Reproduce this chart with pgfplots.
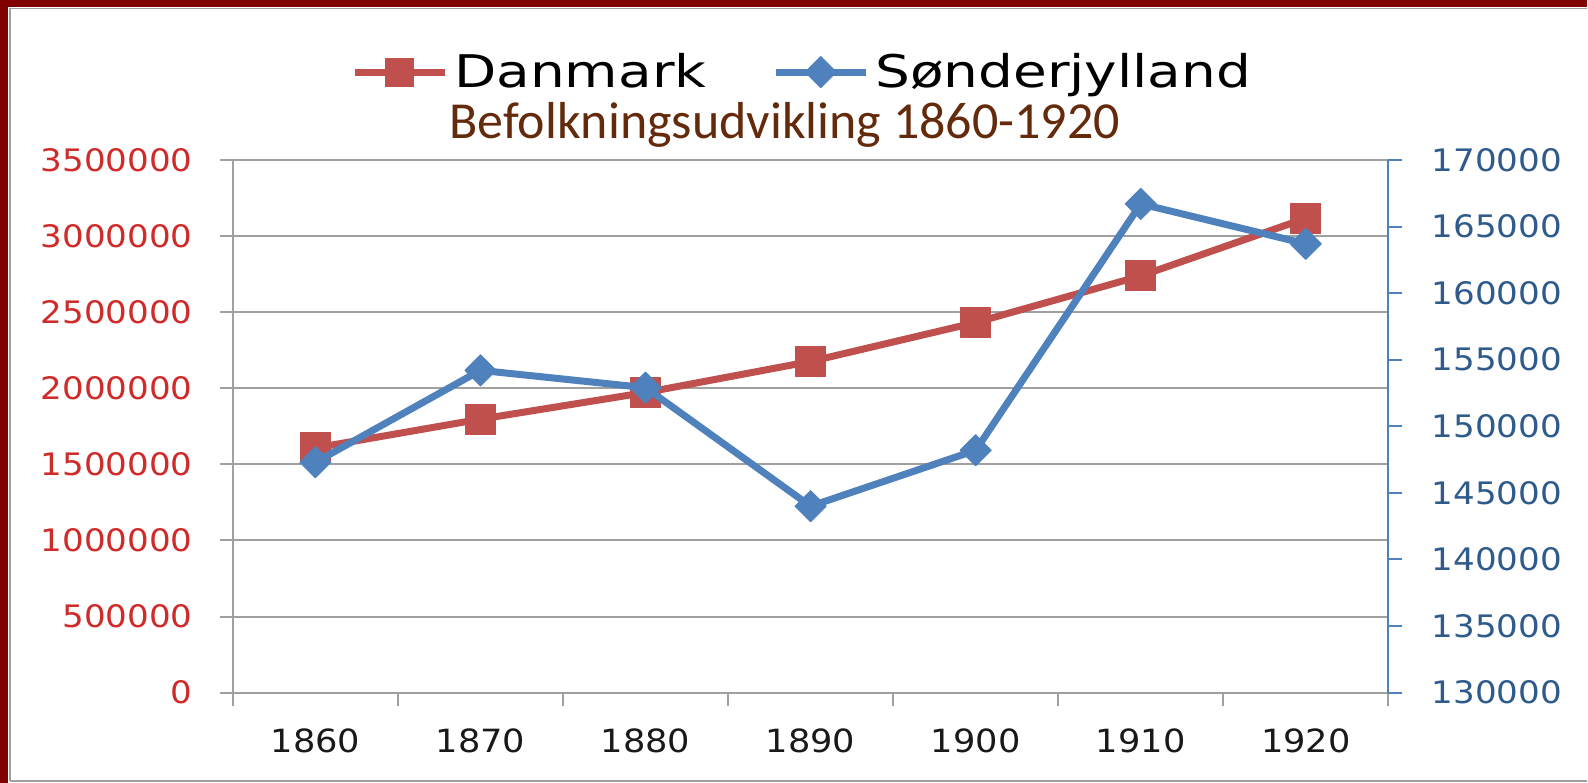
\documentclass[border=0pt]{standalone}
\usepackage{fontspec}
\usepackage{pgfplots}
\pgfplotsset{compat=1.18}
\setmainfont{DejaVu Sans}
\newfontfamily\tickfam[FakeStretch=1.1]{DejaVu Sans}
\newfontfamily\legfam[FakeStretch=1.22]{DejaVu Sans}
\newfontfamily\titlefam{Carlito}
\definecolor{dkred}{HTML}{C0504D}
\definecolor{dkblue}{HTML}{4F81BD}
\definecolor{framered}{HTML}{800000}
\definecolor{gridgray}{HTML}{A0A0A0}
\definecolor{ticklred}{HTML}{D02B2B}
\definecolor{ticklblue}{HTML}{2F5A8C}
\definecolor{titlebrown}{HTML}{642A0C}
\pgfplotsset{
  base/.style={
    at={(116.5pt,45pt)}, anchor=south west, scale only axis,
    width=578pt, height=266.5pt,
    xmin=0.5, xmax=7.5,
    scaled y ticks=false,
    /pgf/number format/fixed,
    /pgf/number format/set thousands separator={},
    /pgf/number format/assume math mode=true,
    tick align=outside,
  }
}
\begin{document}
\begin{tikzpicture}
\fill[white] (0,0) rectangle (794pt,391.5pt);
\fill[framered] (0,388pt) rectangle (794pt,391.5pt);
\fill[framered] (0,0) rectangle (4pt,391.5pt);
\draw[gridgray, line width=0.75pt] (5pt,0.75pt) -- (794pt,0.75pt);
\draw[gridgray, line width=0.75pt] (5pt,0.75pt) -- (5pt,387.25pt);
\draw[gridgray, line width=0.75pt] (5pt,387.25pt) -- (794pt,387.25pt);

\begin{axis}[base,
  ymin=0, ymax=3500000,
  xtick={0.5,1.5,...,7.5},
  x tick label as interval,
  xticklabels={1860,1870,1880,1890,1900,1910,1920},
  ytick={0,500000,...,3500000},
  axis x line*=bottom, axis y line*=left,
  axis line style={-, draw=gridgray, line width=1pt},
  major tick length=6.5pt,
  tick style={gridgray, line width=1pt},
  ymajorgrids, grid style={gridgray, line width=1pt},
  yticklabel style={font=\tickfam\fontsize{15.5}{16}\selectfont, color=ticklred, inner sep=0pt, xshift=-13.5pt},
  xticklabel style={font=\tickfam\fontsize{16}{17}\selectfont, color=black!90, inner sep=0pt, yshift=-11.5pt},
]
\addplot[dkred, line width=3.5pt, line join=round, mark=square*, mark size=7.5pt,
  mark options={solid, fill=dkred, draw=dkred, line width=0.5pt}]
  coordinates {(1,1608000) (2,1797000) (3,1972000) (4,2176000) (5,2432000) (6,2738000) (7,3117000)};
\end{axis}

\begin{axis}[base,
  ymin=130000, ymax=170000,
  ytick={130000,135000,...,170000},
  axis y line*=right, axis x line=none,
  y axis line style={-, draw=dkblue, line width=1pt},
  major tick length=7pt,
  ytick style={dkblue, line width=1pt},
  yticklabel style={font=\tickfam\fontsize{15.5}{16}\selectfont, color=ticklblue, inner sep=0pt, xshift=14.5pt},
  legend style={at={(0.4944,1.165)}, anchor=center, draw=none, fill=none,
    legend columns=2, font=\legfam\fontsize{22.5}{23}\selectfont,
    /tikz/every even column/.append style={column sep=30pt},
    nodes={inner xsep=3pt, inner ysep=0pt}},
  legend cell align=left,
  legend image code/.code={\draw[mark repeat=2,mark phase=2,#1] plot coordinates {(0pt,0pt) (22.5pt,0pt) (45pt,0pt)};},
]
\addlegendimage{dkred, line width=3.5pt, mark=square*, mark size=7pt, mark options={solid, fill=dkred, draw=dkred, line width=0.5pt}}
\addlegendentry{Danmark}
\addplot[dkblue, line width=3.5pt, line join=round, mark=square*, mark size=5.5pt,
  mark options={solid, rotate=45, fill=dkblue, draw=dkblue, line width=0.5pt}]
  coordinates {(1,147300) (2,154200) (3,152900) (4,144000) (5,148200) (6,166700) (7,163700)};
\addlegendentry{Sønderjylland}
\end{axis}

\node[font=\titlefam\fontsize{26}{27}\selectfont, color=titlebrown, anchor=base] at (392.5pt,322pt) {Befolkningsudvikling 1860-1920};
\end{tikzpicture}
\end{document}
